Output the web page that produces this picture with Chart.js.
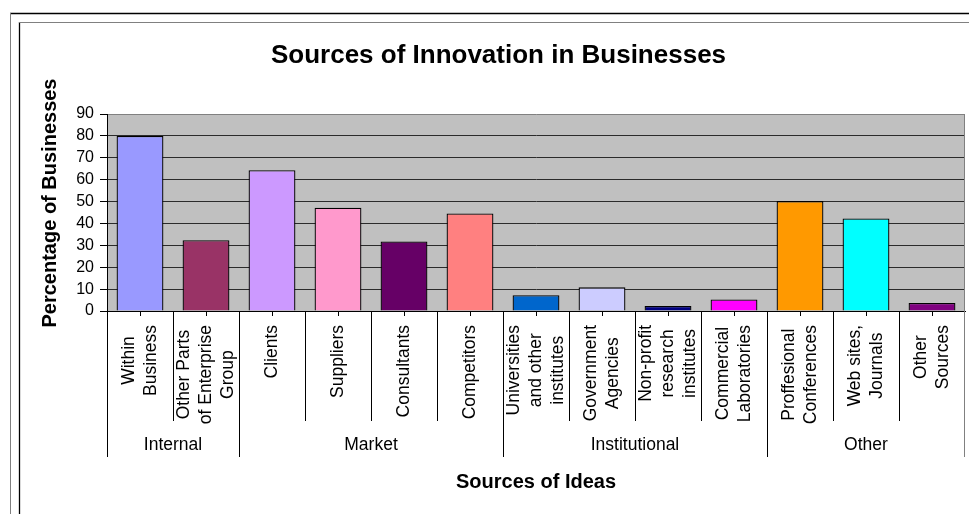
<!DOCTYPE html>
<html>
<head>
<meta charset="utf-8">
<script src="https://cdn.jsdelivr.net/npm/chart.js@4/dist/chart.umd.min.js"></script>
<style>
  html, body { margin: 0; padding: 0; background: #fff; }
  #c { display: block; }
</style>
</head>
<body>
<canvas id="c" width="969" height="514"></canvas>
<script>
// Category labels (one array of lines per bar)
const categories = [
  ["Within", "Business"],
  ["Other Parts", "of Enterprise", "Group"],
  ["Clients"],
  ["Suppliers"],
  ["Consultants"],
  ["Competitors"],
  ["Universities", "and other", "institutes"],
  ["Government", "Agencies"],
  ["Non-profit", "research", "institutes"],
  ["Commercial", "Laboratories"],
  ["Proffesional", "Conferences"],
  ["Web sites,", "Journals"],
  ["Other", "Sources"]
];

// Percentage of businesses citing each source
const values = [80, 32.3, 64.3, 47.2, 31.8, 44.6, 7.2, 10.8, 2.3, 5.3, 50.2, 42.3, 3.7];

// Outer grouping of the categories
const groupNames = ["Internal", "Market", "Institutional", "Other"];
const groupSizes = [2, 4, 4, 3];

// Bar fill colours
const barColors = [
  "#9999FF", "#993366", "#CC99FF", "#FF99CC", "#660066", "#FF8080",
  "#0066CC", "#CCCCFF", "#000080", "#FF00FF", "#FF9900", "#00FFFF", "#800080"
];

const yTicks = [0, 10, 20, 30, 40, 50, 60, 70, 80, 90];

const FONT = "'Liberation Sans', Arial, sans-serif";

// Background, frame and grey plot area
const backdrop = {
  id: "backdrop",
  beforeDraw(chart) {
    const ctx = chart.ctx;
    const a = chart.chartArea;
    ctx.save();
    ctx.fillStyle = "#fff";
    ctx.fillRect(0, 0, chart.width, chart.height);
    // double frame around the chart object
    ctx.lineWidth = 1.3;
    ctx.strokeStyle = "#000";
    ctx.beginPath(); ctx.moveTo(10, 13.5); ctx.lineTo(chart.width, 13.5); ctx.stroke();
    ctx.beginPath(); ctx.moveTo(19.5, 22); ctx.lineTo(19.5, chart.height); ctx.stroke();
    ctx.lineWidth = 1;
    ctx.strokeStyle = "#808080";
    ctx.beginPath(); ctx.moveTo(10.5, 13); ctx.lineTo(10.5, chart.height); ctx.stroke();
    ctx.beginPath(); ctx.moveTo(19, 22.5); ctx.lineTo(chart.width, 22.5); ctx.stroke();
    // plot area fill
    ctx.fillStyle = "#C0C0C0";
    ctx.fillRect(a.left, a.top, a.right - a.left, a.bottom - a.top);
    ctx.restore();
  }
};

// Two-level category axis, right border and y-axis title
const groupedAxis = {
  id: "groupedAxis",
  afterDraw(chart) {
    const ctx = chart.ctx;
    const a = chart.chartArea;
    const x = chart.scales.x;
    const n = categories.length;
    const half = (x.getPixelForValue(1) - x.getPixelForValue(0)) / 2;
    const innerBottom = a.bottom + 110;
    const outerBottom = a.bottom + 146;

    ctx.save();
    // right edge of the plot, running down through the label area
    ctx.strokeStyle = "#808080";
    ctx.lineWidth = 1;
    ctx.beginPath();
    ctx.moveTo(Math.round(a.right) - 0.5, a.top);
    ctx.lineTo(Math.round(a.right) - 0.5, outerBottom);
    ctx.stroke();

    // group boundaries (index where each group starts)
    const groupStarts = [];
    let s = 0;
    groupSizes.forEach(g => { groupStarts.push(s); s += g; });

    ctx.strokeStyle = "#000";
    for (let i = 0; i < n; i++) {
      const bx = Math.round(x.getPixelForValue(i) - half) + 0.5;
      const isGroupEdge = groupStarts.includes(i);
      ctx.beginPath();
      ctx.moveTo(bx, a.bottom);
      ctx.lineTo(bx, isGroupEdge ? outerBottom : innerBottom);
      ctx.stroke();
      // short tick mark at the category centre
      const cx = Math.round(x.getPixelForValue(i)) + 0.5;
      ctx.beginPath();
      ctx.moveTo(cx, a.bottom);
      ctx.lineTo(cx, a.bottom + 5);
      ctx.stroke();
    }

    // rotated category labels
    ctx.fillStyle = "#000";
    ctx.font = "17.5px " + FONT;
    ctx.textAlign = "center";
    ctx.textBaseline = "middle";
    const lineGap = 22;
    categories.forEach((lines, i) => {
      const cx = x.getPixelForValue(i);
      const w = Math.max(...lines.map(l => ctx.measureText(l).width));
      const cy = a.bottom + 14 + w / 2;
      lines.forEach((line, j) => {
        const lx = cx + (j - (lines.length - 1) / 2) * lineGap;
        ctx.save();
        ctx.translate(lx, cy);
        ctx.rotate(-Math.PI / 2);
        ctx.fillText(line, 0, 0);
        ctx.restore();
      });
    });

    // group labels
    groupNames.forEach((name, g) => {
      const first = groupStarts[g];
      const last = first + groupSizes[g] - 1;
      const gx = (x.getPixelForValue(first) + x.getPixelForValue(last)) / 2;
      ctx.fillText(name, gx, a.bottom + 134);
    });

    // y-axis title
    ctx.font = "bold 20px " + FONT;
    ctx.translate(50, 203);
    ctx.rotate(-Math.PI / 2);
    ctx.fillText("Percentage of Businesses", 0, 0);
    ctx.restore();
  }
};

new Chart(document.getElementById("c"), {
  type: "bar",
  data: {
    labels: categories,
    datasets: [{
      data: values,
      backgroundColor: barColors,
      borderColor: "#000",
      borderWidth: 1.3,
      barPercentage: 0.71,
      categoryPercentage: 1
    }]
  },
  options: {
    responsive: false,
    animation: false,
    devicePixelRatio: 1,
    layout: { padding: { left: 32, right: 4, top: 0, bottom: 0 } },
    plugins: {
      legend: { display: false },
      tooltip: { enabled: false },
      title: {
        display: true,
        text: "Sources of Innovation in Businesses",
        color: "#000",
        font: { family: FONT, size: 26, weight: "bold" },
        padding: { top: 40.4, bottom: 42.4 }
      }
    },
    scales: {
      x: {
        type: "category",
        ticks: { display: false },
        grid: { display: false },
        border: { display: true, color: "#000", width: 1 },
        title: {
          display: true,
          text: "Sources of Ideas",
          color: "#000",
          font: { family: FONT, size: 20, weight: "bold" },
          padding: { top: 0, bottom: 20 }
        },
        afterFit(scale) { scale.height = 203; }
      },
      y: {
        min: yTicks[0],
        max: yTicks[yTicks.length - 1],
        afterBuildTicks(scale) { scale.ticks = yTicks.map(v => ({ value: v })); },
        ticks: {
          color: "#000",
          padding: 6,
          autoSkip: false,
          font: { family: FONT, size: 16 }
        },
        grid: {
          color: ctx => (ctx.tick && ctx.tick.value === 90 ? "#808080" : "#2b2b2b"),
          tickColor: "#000",
          tickLength: 7,
          lineWidth: 1
        },
        border: { display: true, color: "#000", width: 1 },
        afterFit(scale) { scale.width = 75; }
      }
    }
  },
  plugins: [backdrop, groupedAxis]
});
</script>
</body>
</html>
